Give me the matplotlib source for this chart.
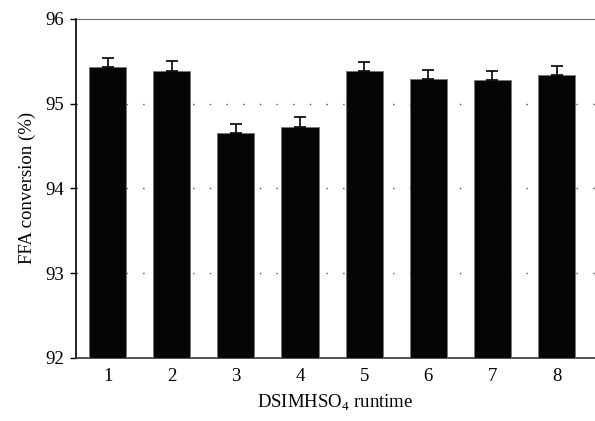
import matplotlib
matplotlib.use("Agg")
import matplotlib.pyplot as plt

runs = [1, 2, 3, 4, 5, 6, 7, 8]
conversion = [95.43, 95.39, 94.65, 94.73, 95.38, 95.29, 95.28, 95.34]
err = [0.11, 0.11, 0.11, 0.11, 0.11, 0.11, 0.11, 0.11]
yticks = [92, 93, 94, 95, 96]

plt.rcParams["font.family"] = ["Liberation Serif", "DejaVu Serif"]
plt.rcParams["mathtext.fontset"] = "custom"
plt.rcParams["mathtext.rm"] = "Liberation Serif"

fig = plt.figure(figsize=(5.95, 4.21), dpi=100)
ax = fig.add_axes([0.127, 0.150, 0.873, 0.805])

ax.bar(runs, conversion, width=0.58, bottom=0, color="#050505",
       edgecolor="#777777", linewidth=0.6, zorder=3)
ax.errorbar(runs, conversion, yerr=[[0] * len(err), err], fmt="none",
            ecolor="black", elinewidth=1.2, capsize=4, capthick=1.2, zorder=4)

ax.set_ylim(92, 96)
ax.set_xlim(0.5, 8.6)
ax.set_yticks(yticks)
ax.set_xticks(runs)

# dotted guides at the inner ticks, solid line across the top
for y in yticks[1:-1]:
    ax.axhline(y, color="#555555", linestyle=(0, (1, 11)), linewidth=1.0, zorder=1)
ax.axhline(96, color="#444444", linewidth=1.2, zorder=2)

for s in ["top", "right"]:
    ax.spines[s].set_visible(False)
ax.spines["left"].set_linewidth(1.2)
ax.spines["bottom"].set_linewidth(1.2)
ax.spines["bottom"].set_color("#333333")

ax.tick_params(axis="y", direction="out", length=4, width=1, labelsize=13.5, pad=4)
ax.tick_params(axis="x", length=0, labelsize=13.5, pad=7)

ax.set_ylabel("FFA conversion (%)", fontsize=13.5, labelpad=7)
ax.set_xlabel("DSIMHSO$_4$ runtime", fontsize=13.5, labelpad=6)

fig.savefig("out.png", dpi=100)
